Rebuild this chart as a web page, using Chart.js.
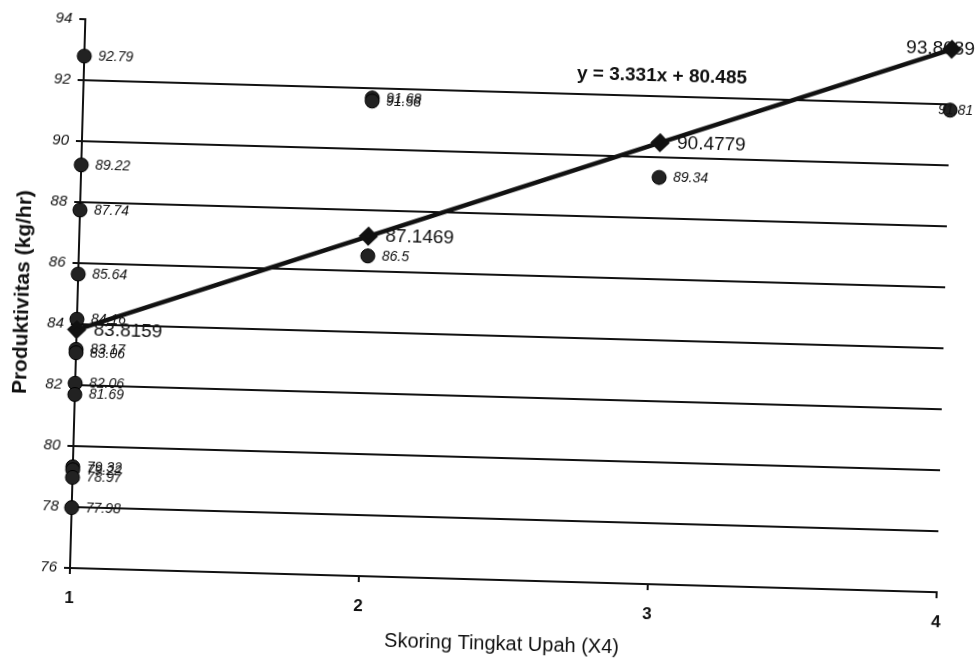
<!DOCTYPE html>
<html>
<head>
<meta charset="utf-8">
<title>Produktivitas vs Skoring Tingkat Upah</title>
<script src="https://cdn.jsdelivr.net/npm/chart.js@4.4.1/dist/chart.umd.min.js"></script>
<style>
  html, body { margin: 0; padding: 0; background: #fff; overflow: hidden; }
  /* the source is a slightly tilted scan, so the whole chart is turned a little */
  #wrap { width: 980px; height: 660px; transform: rotate(1.6deg); transform-origin: 70px 568px; }
</style>
</head>
<body>
<div id="wrap"><canvas id="chart" width="980" height="660"></canvas></div>
<script>
// skor tingkat upah (X4) dan produktivitas (kg/hr) hasil pengamatan
const obsX = [1, 1, 1, 1, 1, 1, 1, 1, 1, 1, 1, 1, 1, 2, 2, 2, 3, 4];
const obsY = [92.79, 89.22, 87.74, 85.64, 84.16, 83.17, 83.06, 82.06, 81.69,
              79.32, 79.22, 78.97, 77.98, 91.68, 91.58, 86.5, 89.34, 91.81];

// garis regresi
const fitX = [1, 2, 3, 4];
const fitY = [83.8159, 87.1469, 90.4779, 93.8089];
const equation = 'y = 3.331x + 80.485';

const xTicks = [1, 2, 3, 4];
const yTicks = [76, 78, 80, 82, 84, 86, 88, 90, 92, 94];

const toPoints = (xs, ys) => xs.map((x, i) => ({ x: x, y: ys[i] }));

const INK = '#111';
const FONT = '"Liberation Sans", Arial, sans-serif';

// label angka di sebelah kanan setiap titik + persamaan regresi
const pointLabels = {
    id: 'pointLabels',
    afterDatasetsDraw(chart) {
        const ctx = chart.ctx;
        const rightLimit = chart.width - 20; // kanvas diputar, sisakan ruang di kanan
        ctx.save();
        ctx.fillStyle = INK;
        ctx.textBaseline = 'middle';
        ctx.textAlign = 'left';

        chart.data.datasets.forEach((ds, i) => {
            const meta = chart.getDatasetMeta(i);
            ctx.font = ds.labelFont;
            meta.data.forEach((el, j) => {
                const text = String(ds.data[j].y);
                const w = ctx.measureText(text).width;
                let x = el.x + ds.labelGap;
                if (x + w > rightLimit) x = rightLimit - w;
                ctx.fillText(text, x, el.y);
            });
        });

        // persamaan, ditaruh di ruang data
        const sx = chart.scales.x, sy = chart.scales.y;
        ctx.font = 'bold 19px ' + FONT;
        ctx.textAlign = 'center';
        ctx.fillText(equation, sx.getPixelForValue(3.0), sy.getPixelForValue(92.65));
        ctx.restore();
    }
};

new Chart(document.getElementById('chart'), {
    type: 'scatter',
    data: {
        datasets: [
            {
                label: 'Regresi',
                data: toPoints(fitX, fitY),
                showLine: true,
                clip: false,
                borderColor: INK,
                borderWidth: 4.5,
                pointStyle: 'rectRot',
                pointRadius: 6.5,
                pointBackgroundColor: INK,
                pointBorderColor: INK,
                labelFont: '19px ' + FONT,
                labelGap: 17,
            },
            {
                label: 'Pengamatan',
                data: toPoints(obsX, obsY),
                clip: false,
                pointRadius: 7,
                pointBackgroundColor: '#222',
                pointBorderColor: '#000',
                pointBorderWidth: 1,
                labelFont: 'italic 14px ' + FONT,
                labelGap: 14,
            },
        ],
    },
    options: {
        responsive: false,
        animation: false,
        layout: { padding: { top: 19, right: 43, bottom: 0, left: 0 } },
        plugins: {
            legend: { display: false },
            tooltip: { enabled: false },
        },
        scales: {
            x: {
                type: 'linear',
                min: 1,
                max: 4,
                afterBuildTicks: (scale) => { scale.ticks = xTicks.map(v => ({ value: v })); },
                afterFit: (scale) => { scale.height = 92; },
                grid: { drawOnChartArea: false, drawTicks: true, tickLength: 6, tickColor: INK, lineWidth: 2 },
                border: { display: true, color: INK, width: 2 },
                ticks: { color: INK, padding: 14, font: { family: FONT, size: 17, weight: 'bold' } },
                title: {
                    display: true,
                    text: 'Skoring Tingkat Upah (X4)',
                    color: INK,
                    font: { family: FONT, size: 20 },
                    padding: { top: 0, bottom: 16 },
                },
            },
            y: {
                min: 76,
                max: 94,
                afterBuildTicks: (scale) => { scale.ticks = yTicks.map(v => ({ value: v })); },
                afterFit: (scale) => { scale.width = 70; },
                grid: {
                    color: (c) => (c.tick && c.tick.value === 94 ? 'rgba(0,0,0,0)' : INK),
                    lineWidth: 2,
                    tickLength: 6,
                    tickColor: INK,
                },
                border: { display: true, color: INK, width: 2 },
                ticks: { color: INK, padding: 7, font: { family: FONT, size: 15, style: 'italic' } },
                title: {
                    display: true,
                    text: 'Produktivitas (kg/hr)',
                    color: INK,
                    font: { family: FONT, size: 21, weight: 'bold' },
                    padding: { top: 3, bottom: 0 },
                },
            },
        },
    },
    plugins: [pointLabels],
});
</script>
</body>
</html>
